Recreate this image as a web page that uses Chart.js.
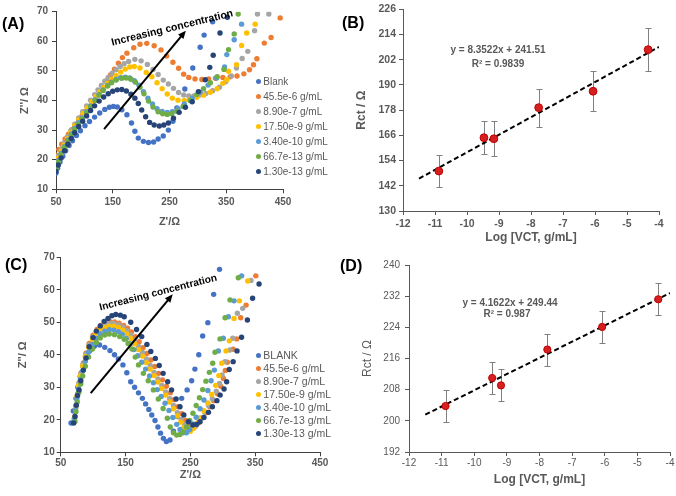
<!DOCTYPE html>
<html lang="en">
<head>
<meta charset="utf-8">
<title>EIS response and calibration</title>
<script src="https://cdn.jsdelivr.net/npm/chart.js@4.4.1/dist/chart.umd.min.js"></script>
<style>
  html, body { margin: 0; padding: 0; background: #fff; }
  body { position: relative; width: 676px; height: 496px; overflow: hidden; font-family: 'Liberation Sans', Arial, sans-serif; }
  .panel { position: absolute; }
  .panel canvas { display: block; }
  .tag { position: absolute; font-weight: bold; font-size: 16px; line-height: 1; color: #000; }
  .note { position: absolute; white-space: nowrap; font-weight: bold; color: #000; }
  .eq { position: absolute; white-space: nowrap; font-weight: bold; font-size: 10px; color: #595959; transform: translate(-50%, -50%); }
  .legend { position: absolute; color: #595959; white-space: nowrap; }
  .legend-item { display: flex; align-items: center; }
  .swatch { display: inline-block; width: 5px; height: 5px; border-radius: 50%; margin-right: 2.5px; }
</style>
</head>
<body>
<div class="panel" style="left:0;top:0"><canvas id="nyquistA" width="338" height="248"></canvas></div>
<div class="panel" style="left:340px;top:0"><canvas id="calibB" width="336" height="248"></canvas></div>
<div class="panel" style="left:0;top:248px"><canvas id="nyquistC" width="338" height="248"></canvas></div>
<div class="panel" style="left:340px;top:248px"><canvas id="calibD" width="336" height="248"></canvas></div>

<div class="tag" style="left:2px;top:16px">(A)</div>
<div class="tag" style="left:342px;top:15px">(B)</div>
<div class="tag" style="left:5px;top:257px">(C)</div>
<div class="tag" style="left:340px;top:258px">(D)</div>

<div class="note" style="left:171.7px;top:26.7px;font-size:10.5px;transform:translate(-50%,-50%) rotate(-13.7deg)">Increasing concentration</div>
<div class="note" style="left:158.3px;top:291.7px;font-size:10.2px;transform:translate(-50%,-50%) rotate(-14.4deg)">Increasing concentration</div>

<div class="eq" style="left:498px;top:49.3px">y = 8.3522x + 241.51</div>
<div class="eq" style="left:498px;top:62.7px">R² = 0.9839</div>
<div class="eq" style="left:510px;top:301.7px">y = 4.1622x + 249.44</div>
<div class="eq" style="left:507px;top:313.3px">R² = 0.987</div>

<div class="legend" id="legendA" style="left:255.8px;top:74.2px;font-size:10px;line-height:15px"></div>
<div class="legend" id="legendC" style="left:255.8px;top:349px;font-size:10.5px;line-height:13px"></div>

<script>
// ---- series names / colours ----
const seriesLabelsA = ['Blank', '45.5e-6 g/mL', '8.90e-7 g/mL', '17.50e-9 g/mL', '3.40e-10 g/mL', '66.7e-13 g/mL', '1.30e-13 g/mL'];
const seriesLabelsC = ['BLANK', '45.5e-6 g/mL', '8.90e-7 g/mL', '17.50e-9 g/mL', '3.40e-10 g/mL', '66.7e-13 g/mL', '1.30e-13 g/mL'];
const seriesColors = ['#4472C4', '#ED7D31', '#A5A5A5', '#FFC000', '#5B9BD5', '#70AD47', '#264478'];

// ---- (A) Nyquist plots, Z' vs Z'' (ohm) ----
const aBlankX = [50,53,57,62,67,73,79,86,93,101,109,118,127,136,144,151,158,166,175,183,189,195,204,213,222,230,239,248,256,263,277,291,304,311,326];
const aBlankY = [15.5,17.2,19.2,21.2,23,24.8,26.4,28.2,29.8,31.5,32.9,34.4,35.8,37,37.7,38,37.8,36.9,35.2,32.4,29.6,27.3,26.2,25.8,26,27,28,30,33,37.5,43.9,51,58,62.1,66.6];
const aOrangeX = [51,55,60,66,72,78,84,90,96,102,108,114,120,126,132,139,146,153,160,167,175,187,198,210,223,235,245,256,266,275,284,295,307,319,331,344,357,369,381,391,398,404,417,429,445];
const aOrangeY = [21.5,23.5,25.2,27,28.6,30.1,31.6,33.2,34.8,36.4,38,39.6,41.3,43,44.7,46.6,48.6,50.6,52.6,54.5,56,57.8,59,59.3,58.5,57.1,55,52.9,50.9,48.9,47.8,47.3,47.1,47.3,47.5,47.8,48,48.3,49,50.4,52.1,54.1,59.4,61.3,67.9];
const aGreyX = [50,54,59,64,70,76,83,90,97,104,111,118,124,130,136,142,149,156,163,170,178,189,200,211,221,230,239,248,257,266,275,284,293,303,314,326,338,349,359,368,378,388,400,405,425];
const aGreyY = [19,21.2,23.5,25.5,27.7,29.8,32,34.1,36.2,38.2,40.1,42,43.6,45.1,46.5,47.8,49.2,50.4,51.5,52.4,53.2,53.9,53.4,52.2,50.5,48.8,46.9,45.6,44.1,42.7,41.9,41.5,41.5,41.9,42.4,43.3,44.5,46.3,48.3,51,54.2,56.6,63.6,69.2,69.2];
const aYellowX = [50,54,59,64,70,76,83,90,98,105,113,120,127,134,141,148,156,164,172,180,188,198,209,219,228,237,246,255,265,276,287,298,310,322,334,344,351,354,368,377,386,401];
const aYellowY = [18.5,20.6,22.9,24.9,27.1,29.2,31.5,33.5,35.6,37.5,39.6,41.3,42.9,44.4,45.8,47.1,48.4,49.6,50.6,51.3,51.5,51,49.5,48,46,44,42.2,40.8,40.1,40,40.4,41.1,41.8,42.8,44,45.8,47,49.9,52.1,58.6,62.8,65.8];
const aLightX = [50,54,59,65,71,77,83,89,96,104,111,119,126,133,141,148,156,164,172,180,188,196,204,212,220,228,237,246,255,265,276,290,304,318,333,347,351,364,377];
const aLightY = [17.5,19.7,22.1,24.5,26.7,28.7,30.6,32.5,34.1,36.2,38.2,40.3,42,43.6,45.1,46.2,47.1,47.7,47.9,47.6,46.7,45.2,43,40.8,38.8,37.2,36.3,36,36.2,37.2,38.8,40.8,42.8,45.2,47.6,51.3,55.5,60.5,65.8];
const aGreenX = [50,54,59,65,71,77,83,89,96,104,111,119,126,133,141,148,156,166,174,182,190,198,205,213,221,230,238,246,254,263,274,286,298,310,322,334,346,354,364,371];
const aGreenY = [17,19.3,21.7,24.1,26.3,28.3,30.2,32,33.8,35.9,37.9,40,41.8,43.4,44.9,46,46.9,47.5,47.6,47.2,46.2,44.5,42.3,39.8,37.8,36.2,35.5,35.3,35.5,36.4,38,40,42,44,46,48,50.5,57.2,62.5,69.2];
const aNavyX = [50,54,59,65,71,77,83,90,97,104,111,118,126,134,142,150,158,166,174,182,189,195,201,208,215,223,232,240,248,257,267,278,290,301,313,321,327,339,352];
const aNavyY = [16,18.2,20.6,23,25.2,27.2,29.1,31.2,33,34.8,36.6,38.2,39.8,41.2,42.3,43.1,43.6,43.7,43.2,42.1,40.8,39,36.8,34.5,32.6,31.7,31.4,31.7,32.4,34,36,37.7,39.6,43,47,51.2,55.3,62.8,68.1];
const aArrowX = [134.7, 278.8];
const aArrowY = [30.3, 63.6];

// ---- (C) Nyquist plots, second electrode ----
const cBlankX = [66,69.5,73.6,76.5,80,84,89,95,102,110,118,126,133,139,146,152,158,164,170,176,181,186,190.5,195.5,200,204,208.4,213,218.6,224,230,236.6,245,252,257,263,269,277,286,295];
const cBlankY = [19,22.7,26.6,30,33.3,36.5,39.3,41.3,42.6,43,42.3,41.3,40,38.7,36.9,34.5,31.7,30,28.3,26.6,24.9,23.2,21.5,19.8,17.8,15.9,14.3,13.3,13.8,16.5,21,26.6,29.2,32,35.6,40,45.8,49.9,58.6,66.3];
const cOrangeX = [72,74,76,78.5,81.5,85,89,94,100,106,112,119,126,133,140,147,153,159,165,171,177,183,189,195,201,207,213,219,225,231,237,243,248,253,258,263,268,274,280,286,292,297,301,304,307,316,321.5,327.7,336,351];
const cOrangeY = [21,24.5,28,31.5,34.5,37.5,40.5,43.5,46,47.8,49,49.8,50.2,50.1,49.7,49,48.2,47,45.6,44,42.2,40.4,38.4,36.4,34.3,32.3,30.3,28.3,26.2,24,21.9,19.8,18.3,17.6,18,19.2,20.6,22.2,24,25.9,28,30.3,32.7,35.2,37.7,41.7,44.9,51.4,55.3,64.3];
const cGreyX = [71.5,73.5,75.5,78,81,84.5,88.5,93.5,99,105,111,118,125,132,139,146,152,158,164,170,176,182,188,194,200,206,212,218,224,230,236,241,246,251,256,261,266,272,278,284,290,295,299,303.5,311,315.4,322.5,330.8,343.6];
const cGreyY = [20.5,24,27.5,31,34,37,40,43,45.5,47.3,48.5,49.3,49.7,49.7,49.3,48.5,47.4,46,44.4,42.6,40.7,38.7,36.7,34.6,32.6,30.6,28.6,26.5,24.4,22.2,20.1,18.4,17.3,17.1,17.8,19,20.6,22.4,24.4,26.5,28.8,31.2,33.8,37.9,41.5,45.1,52.8,54.3,62.9];
const cYellowX = [71,73,75,77.5,80.5,84,88,93,99,105,111,118,125,132,139,146,152,158,164,170,176,182,188,194,200,206,212,218,224,230,235,240,245,250,255,260,265,271,277,283,289,294,298.4,305,310.2,317.4,325.6,338.5];
const cYellowY = [20.5,23.5,27,30.5,33.5,36.5,39.5,42.3,44.8,46.5,47.7,48.4,48.8,48.8,48.4,47.6,46.4,45,43.4,41.6,39.6,37.6,35.6,33.6,31.6,29.6,27.6,25.5,23.4,21.2,19.3,17.6,16.6,16.5,17.3,18.8,20.6,22.8,25.2,27.8,30.6,33.6,37.4,41.2,44.3,51.2,56.6,62.7];
const cLightX = [71,73,75,77.5,80.5,84,88,93,99,105,111,118,125,132,139,145,151,157,163,169,175,181,187,193,199,205,211,217,223,229,234,239,244,249,254,259,265,271,277,282,287,293.2,300.9,308.6,317.4,329.2];
const cLightY = [20,23,26.5,29.5,32.5,35,38,40.8,43.2,45,46.4,47.3,47.7,47.6,47.1,46.3,45,43.4,41.6,39.7,37.7,35.6,33.5,31.4,29.3,27.2,25.1,22.9,20.7,18.6,17,16,16,17,18.7,20.8,23.4,26.1,29,32,35.3,41.2,45.1,51.7,56.6,64.3];
const cGreenX = [72,73.5,75.5,78,81,84,88,93,99,105,111,118,125,133,141,148,154,160,165,170,177.5,185,193,200.6,208,214.5,219,224,229,234,239,244,249,254,259,264,269,274,279.3,284.5,288,295.8,303.5,311.2,324];
const cGreenY = [19.5,22.5,25.5,28.5,31,33.5,36.5,39.3,41.8,43.8,45.2,46.1,46.4,46.2,45.6,44.8,43.5,41.8,39.3,36.9,34.3,32,29.2,26.4,23.5,20.5,17.8,16,15.3,15.5,16.3,17.8,19.8,22,24.4,26.8,29.3,31.9,34.6,37.4,40.8,44.9,51.4,56.9,63.7];
const cNavyX = [70,72,74,76,78.3,81,85,89,94,100,105,111,117,123,129,135,142,148,158,167,175,183,189,196,202,208,215,221,228,234,240,247,254,260,265,271,278,284,291,296,302,306,310,316,322,329,338,346,356];
const cNavyY = [19,21,24.5,27.5,29.2,32,35.3,39,42.5,45.3,47.3,48.9,50.3,51.2,52,52.4,52.2,51.7,50,47.8,45.6,43.2,41,38.9,36.7,34.3,31.7,29.2,26.4,24,21.5,19.4,18.4,18.6,19.4,20.7,22.3,24,25.9,27.6,29.5,31.7,35.5,37.9,41.2,45.4,50.7,57.4,61.8];
const cArrowX = [96.3, 222.8];
const cArrowY = [28.2, 58.6];

// ---- (B) Rct vs log concentration ----
const bLogC = [-10.88, -9.47, -9.16, -7.76, -6.06, -4.34];
const bRct = [149, 164.9, 164.4, 179.2, 187, 206.8];
const bRctErr = [7.5, 8, 8.3, 9, 9.6, 10.3];
const bFitX = [-11.5, -4];
const bFitY = [145.4, 208.1];

// ---- (D) Rct vs log concentration ----
const dLogC = [-10.88, -9.45, -9.18, -7.76, -6.08, -4.36];
const dRct = [203.8, 211, 209.1, 218.3, 224.1, 231.2];
const dRctErr = [4.2, 4.1, 4.1, 4.1, 4.1, 4.1];
const dFitX = [-11.5, -4];
const dFitY = [201.6, 232.8];

const TEXT_GREY = '#595959';
Chart.defaults.font.family = "'Liberation Sans', Arial, sans-serif";
Chart.defaults.color = TEXT_GREY;

function toPoints(xs, ys) {
  return xs.map((x, i) => ({ x: x, y: ys[i] }));
}

// scales with fixed box sizes so the plot area lands where the figure has it
function makeAxes(c) {
  const tickFont = { size: c.tickSize, weight: c.tickWeight };
  return {
    x: {
      type: 'linear', position: 'bottom', min: c.xMin, max: c.xMax,
      afterFit: function(s) { s.height = c.xHeight; },
      ticks: { stepSize: c.xStep, color: TEXT_GREY, font: tickFont, padding: c.xTickPad, maxRotation: 0, autoSkip: false },
      grid: { drawOnChartArea: false, tickLength: 4, color: c.axisColor },
      border: { color: c.axisColor, width: 1 },
      title: { display: true, text: c.xTitle, color: TEXT_GREY, font: c.xTitleFont, padding: { top: 0, bottom: c.xTitlePad } }
    },
    y: {
      type: 'linear', position: 'left', min: c.yMin, max: c.yMax,
      afterFit: function(s) { s.width = c.yWidth; },
      ticks: { stepSize: c.yStep, color: TEXT_GREY, font: tickFont, padding: c.yTickPad },
      grid: { drawOnChartArea: false, tickLength: 4, color: c.axisColor },
      border: { color: c.axisColor, width: 1 },
      title: { display: true, text: c.yTitle, color: TEXT_GREY, font: c.yTitleFont, padding: { top: c.yTitlePad, bottom: 0 } }
    }
  };
}

function baseOptions(c) {
  return {
    responsive: false,
    animation: false,
    events: [],
    layout: { padding: { left: 0, top: c.padTop, right: c.padRight, bottom: 0 }, autoPadding: false },
    plugins: { legend: { display: false }, tooltip: { enabled: false } },
    scales: makeAxes(c)
  };
}

// vertical error bars with small caps, drawn under the markers
function errorBars(xs, ys, errs) {
  return {
    id: 'errorBars',
    beforeDatasetsDraw(chart) {
      const ctx = chart.ctx, x = chart.scales.x, y = chart.scales.y;
      ctx.save();
      ctx.strokeStyle = '#808080';
      ctx.lineWidth = 1;
      xs.forEach((v, i) => {
        const px = Math.round(x.getPixelForValue(v)) + 0.5;
        const top = Math.round(y.getPixelForValue(ys[i] + errs[i])) + 0.5;
        const bot = Math.round(y.getPixelForValue(ys[i] - errs[i])) + 0.5;
        ctx.beginPath();
        ctx.moveTo(px, top); ctx.lineTo(px, bot);
        ctx.moveTo(px - 3, top); ctx.lineTo(px + 3, top);
        ctx.moveTo(px - 3, bot); ctx.lineTo(px + 3, bot);
        ctx.stroke();
      });
      ctx.restore();
    }
  };
}

// black arrow in data coordinates
function arrowPlugin(xs, ys) {
  return {
    id: 'trendArrow',
    afterDatasetsDraw(chart) {
      const ctx = chart.ctx, x = chart.scales.x, y = chart.scales.y;
      const x0 = x.getPixelForValue(xs[0]), y0 = y.getPixelForValue(ys[0]);
      const x1 = x.getPixelForValue(xs[1]), y1 = y.getPixelForValue(ys[1]);
      const ang = Math.atan2(y1 - y0, x1 - x0);
      const head = 8, half = 3.5;
      ctx.save();
      ctx.strokeStyle = '#000';
      ctx.fillStyle = '#000';
      ctx.lineWidth = 2;
      ctx.beginPath();
      ctx.moveTo(x0, y0);
      ctx.lineTo(x1 - Math.cos(ang) * head * 0.8, y1 - Math.sin(ang) * head * 0.8);
      ctx.stroke();
      ctx.beginPath();
      ctx.moveTo(x1, y1);
      ctx.lineTo(x1 - Math.cos(ang) * head + Math.sin(ang) * half, y1 - Math.sin(ang) * head - Math.cos(ang) * half);
      ctx.lineTo(x1 - Math.cos(ang) * head - Math.sin(ang) * half, y1 - Math.sin(ang) * head + Math.cos(ang) * half);
      ctx.closePath();
      ctx.fill();
      ctx.restore();
    }
  };
}

function nyquistDatasets(series, labels) {
  return series.map((s, i) => ({
    label: labels[i],
    data: toPoints(s[0], s[1]),
    backgroundColor: seriesColors[i],
    pointBorderWidth: 0,
    borderWidth: 0,
    pointRadius: 2.7,
    order: series.length - i
  }));
}

function buildLegend(containerId, labels, colors) {
  const box = document.getElementById(containerId);
  if (!box) return;
  labels.forEach((lab, i) => {
    const item = document.createElement('div');
    item.className = 'legend-item';
    const sw = document.createElement('span');
    sw.className = 'swatch';
    sw.style.backgroundColor = colors[i];
    const txt = document.createElement('span');
    txt.textContent = lab;
    item.appendChild(sw);
    item.appendChild(txt);
    box.appendChild(item);
  });
}

// --- (A) ---
const seriesA = [[aBlankX, aBlankY], [aOrangeX, aOrangeY], [aGreyX, aGreyY], [aYellowX, aYellowY],
                 [aLightX, aLightY], [aGreenX, aGreenY], [aNavyX, aNavyY]];
new Chart(document.getElementById('nyquistA'), {
  type: 'scatter',
  data: { datasets: nyquistDatasets(seriesA, seriesLabelsA) },
  options: baseOptions({
    xMin: 50, xMax: 450, xStep: 100, yMin: 10, yMax: 70, yStep: 10,
    yWidth: 56, xHeight: 58.7, padTop: 11.7, padRight: 55,
    tickSize: 10, tickWeight: 'bold', xTickPad: 3, yTickPad: 4, axisColor: '#404040',
    xTitle: "Z'/Ω", yTitle: "Z''/ Ω",
    xTitleFont: { size: 11, weight: 'bold' }, yTitleFont: { size: 11, weight: 'bold' },
    xTitlePad: 19.4, yTitlePad: 18.4
  }),
  plugins: [arrowPlugin(aArrowX, aArrowY)]
});
buildLegend('legendA', seriesLabelsA, seriesColors);

// --- (C) ---
const seriesC = [[cBlankX, cBlankY], [cOrangeX, cOrangeY], [cGreyX, cGreyY], [cYellowX, cYellowY],
                 [cLightX, cLightY], [cGreenX, cGreenY], [cNavyX, cNavyY]];
new Chart(document.getElementById('nyquistC'), {
  type: 'scatter',
  data: { datasets: nyquistDatasets(seriesC, seriesLabelsC) },
  options: baseOptions({
    xMin: 50, xMax: 450, xStep: 100, yMin: 10, yMax: 70, yStep: 10,
    yWidth: 60.7, xHeight: 43.7, padTop: 9.3, padRight: 18,
    tickSize: 10, tickWeight: 'bold', xTickPad: 1, yTickPad: 2, axisColor: '#404040',
    xTitle: "Z'/Ω", yTitle: "Z''/ Ω",
    xTitleFont: { size: 11, weight: 'bold' }, yTitleFont: { size: 11, weight: 'bold' },
    xTitlePad: 14.4, yTitlePad: 16.4
  }),
  plugins: [arrowPlugin(cArrowX, cArrowY)]
});
buildLegend('legendC', seriesLabelsC, seriesColors);

// --- (B) ---
new Chart(document.getElementById('calibB'), {
  type: 'scatter',
  data: {
    datasets: [
      { data: toPoints(bLogC, bRct), backgroundColor: '#D42020', borderColor: '#C00000', borderWidth: 1, pointRadius: 3.9, order: 0 },
      { type: 'line', data: toPoints(bFitX, bFitY), borderColor: '#000', borderWidth: 2, borderDash: [5, 3], pointRadius: 0, order: 1 }
    ]
  },
  options: baseOptions({
    xMin: -12, xMax: -4, xStep: 1, yMin: 130, yMax: 226, yStep: 12,
    yWidth: 63, xHeight: 37, padTop: 6, padRight: 17,
    tickSize: 10.5, tickWeight: 'bold', xTickPad: 3, yTickPad: 3, axisColor: '#595959',
    xTitle: 'Log [VCT, g/mL]', yTitle: 'Rct / Ω',
    xTitleFont: { size: 12, weight: 'bold' }, yTitleFont: { size: 12, weight: 'bold' },
    xTitlePad: 3.5, yTitlePad: 14.8
  }),
  plugins: [errorBars(bLogC, bRct, bRctErr)]
});

// --- (D) ---
new Chart(document.getElementById('calibD'), {
  type: 'scatter',
  data: {
    datasets: [
      { data: toPoints(dLogC, dRct), backgroundColor: '#D42020', borderColor: '#C00000', borderWidth: 1, pointRadius: 3.6, order: 0 },
      { type: 'line', data: toPoints(dFitX, dFitY), borderColor: '#000', borderWidth: 2, borderDash: [5, 3], pointRadius: 0, order: 1 }
    ]
  },
  options: baseOptions({
    xMin: -12, xMax: -4, xStep: 1, yMin: 192, yMax: 240, yStep: 8,
    yWidth: 69, xHeight: 44, padTop: 17, padRight: 6,
    tickSize: 10, tickWeight: 'normal', xTickPad: 1, yTickPad: 5, axisColor: '#595959',
    xTitle: 'Log [VCT, g/mL]', yTitle: 'Rct / Ω',
    xTitleFont: { size: 12, weight: 'bold' }, yTitleFont: { size: 12, weight: 'normal' },
    xTitlePad: 8.8, yTitlePad: 20.8
  }),
  plugins: [errorBars(dLogC, dRct, dRctErr)]
});
</script>
</body>
</html>
